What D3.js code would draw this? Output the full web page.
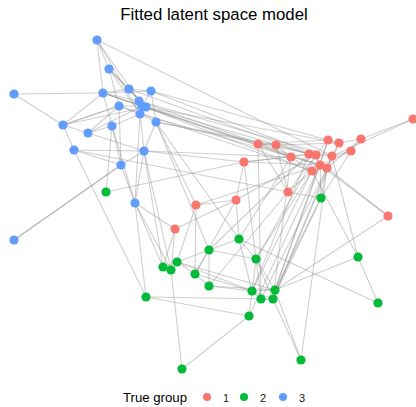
<!DOCTYPE html>
<html>
<head>
<meta charset="utf-8">
<script src="https://cdn.jsdelivr.net/npm/d3@7"></script>
<style>
  html, body { margin: 0; padding: 0; background: #fff; }
  svg { display: block; font-family: "Liberation Sans", Arial, Helvetica, sans-serif; }
</style>
</head>
<body>
<svg id="chart" width="416" height="407"></svg>
<script>
// Node ids, true group and fitted latent positions
const nodeIds = [
  "b1","b2","b3","b4","b5","b6","b7","b8","b9","b10",
  "b11","b12","b13","b14","b15","b16","b17","b18","b19","b20",
  "r1","r2","r3","r4","r5","r6","r7","r8","r9","r10",
  "r11","r12","r13","r14","r15","r16","r17","r18","r19","r20",
  "g1","g2","g3","g4","g5","g6","g7","g8","g9","g10",
  "g11","g12","g13","g14","g15","g16","g17","g18","g19","g20"
];
const nodeGroup = [
  "3","3","3","3","3","3","3","3","3","3","3","3","3","3","3","3","3","3","3","3",
  "1","1","1","1","1","1","1","1","1","1","1","1","1","1","1","1","1","1","1","1",
  "2","2","2","2","2","2","2","2","2","2","2","2","2","2","2","2","2","2","2","2"
];
const latentX = [
  97,109,14,103,129,151,139,142,146,140,
  119,156,63,88,112,74,144,121,135,14,
  413,258,276,328,339,361,351,291,309,316,
  332,244,320,327,312,288,236,388,196,175,
  106,321,239,209,256,163,177,171,195,209,
  252,275,261,273,146,249,182,301,358,378
];
const latentY = [
  40,69,94,93,89,91,101,106,107,114,
  106,122,125,133,126,150,151,165,203,240,
  119,144,145,140,143,139,151,157,154,155,
  156,162,165,168,171,192,200,216,205,229,
  192,198,239,250,259,267,262,270,274,286,
  291,290,299,299,297,316,369,360,257,303
];
// Observed ties (source, target)
const edgeFrom = [
  "b1","b1","b1","b1","b2","b2","b2","b2","b3","b3","b4","b4","b4","b4","b4","b4",
  "b5","b5","b5","b6","b6","b7","b7","b7","b8","b9","b8","b11","b11","b11","b11",
  "b12","b12","b13","b13","b13","b13","b14","b14","b14","b15","b15","b15","b16","b16",
  "b16","b17","b17","b17","b18","b18","b10",
  "b4","b4","b5","b6","b6","b7","b7","b8","b8","b9","b9","b10","b12","b12","b11","b16",
  "b17","b17","b12","b12","b12","b15","b1","g1","b20","b17","b17","b19","b19","b19","b19",
  "r1","r1","r2","r2","r2","r2","r3","r3","r3","r4","r4","r4","r5","r5","r6","r6",
  "r7","r7","r8","r8","r9","r9","r10","r10","r11","r12","r12","r12","r12","r13","r14",
  "r14","r13","r16","r17","r17","r19","r16","r3","r17",
  "r16","r13","r14","r7","r15","r10","r9","r13","r14","r11","r15","r13","r8","r9","r4",
  "r5","r11","r15","r18","r19","r19","r20","r20","r17","r17","r12","r16","r2","r8","r14",
  "g3","g3","g3","g3","g4","g4","g4","g4","g5","g5","g5","g6","g6","g7","g7","g8","g8",
  "g9","g9","g10","g10","g11","g11","g11","g12","g12","g13","g14","g12","g15","g15",
  "g16","g16","g19","g5","g2","g2","g7"
];
const edgeTo = [
  "b2","b4","b7","b10","b5","b11","b10","b9","b4","b13","b5","b6","b7","b13","b15","b8",
  "b6","b7","b9","b8","b12","b8","b9","b10","b10","b10","b11","b13","b10","b14","b18",
  "b10","b17","b14","b16","b9","b11","b15","b17","b8","b18","b10","b19","b17","b18",
  "g15","b18","b19","b10","b19","b20","b19",
  "r2","r8","r9","r4","r10","r11","r13","r14","r15","r5","r9","r13","r3","r10","r15","r16",
  "r12","r8","r19","g4","g3","g1","r11","r12","b18","g6","g8","g6","r20","g15","g8",
  "r6","r11","r3","r8","r16","r4","r9","r5","r8","r5","r10","r13","r6","r11","r7","r14",
  "r11","r13","r9","r15","r10","r14","r13","r11","r14","r8","r9","r17","r13","r15","r15",
  "r18","r18","r15","r19","r20","r13","r10","r16","r10",
  "g2","g2","g2","g2","g5","g5","g11","g12","g13","g14","g11","g16","g3","g4","g12",
  "g14","g19","g19","g12","g7","g9","g6","g8","g9","g3","g5","g10","g13","g14","g18",
  "g4","g5","g20","g11","g7","g9","g10","g5","g11","g13","g12","g7","g8","g9","g11",
  "g8","g17","g10","g11","g11","g12","g12","g13","g14","g14","g19","g14","g18","g18",
  "g16","g14","g17","g11","g20","g14","g12","g14","g12"
];

const groupLevels = ["1", "2", "3"];
const groupColors = ["#F8766D", "#00BA38", "#619CFF"];

const width = 416, height = 407;
const svg = d3.select("#chart");

const x = d3.scaleLinear().domain([0, 416]).range([0, width]);
const y = d3.scaleLinear().domain([0, 407]).range([0, height]);
const color = d3.scaleOrdinal().domain(groupLevels).range(groupColors);

const nodes = nodeIds.map((id, i) => ({ id, group: nodeGroup[i], lx: latentX[i], ly: latentY[i] }));
const byId = new Map(nodes.map(d => [d.id, d]));
const edges = edgeFrom.map((s, i) => ({ source: byId.get(s), target: byId.get(edgeTo[i]) }))
  .filter(e => e.source && e.target);

// Ties
svg.append("g")
  .selectAll("line")
  .data(edges)
  .join("line")
  .attr("x1", d => x(d.source.lx))
  .attr("y1", d => y(d.source.ly))
  .attr("x2", d => x(d.target.lx))
  .attr("y2", d => y(d.target.ly))
  .attr("stroke", "#8c8c8c")
  .attr("stroke-opacity", 0.42)
  .attr("stroke-width", 1.1);

// Actors
svg.append("g")
  .selectAll("circle")
  .data(nodes)
  .join("circle")
  .attr("cx", d => x(d.lx))
  .attr("cy", d => y(d.ly))
  .attr("r", 4.6)
  .attr("fill", d => color(d.group));

// Title
svg.append("text")
  .attr("x", 214)
  .attr("y", 19.5)
  .attr("text-anchor", "middle")
  .attr("font-size", 16.8)
  .attr("fill", "#000")
  .text("Fitted latent space model");

// Legend
const legend = svg.append("g").attr("transform", "translate(0,397)");
legend.append("text")
  .attr("x", 123)
  .attr("y", 4.5)
  .attr("font-size", 13.2)
  .attr("fill", "#000")
  .text("True group");
const keyX = [207, 244, 283];
legend.selectAll("g.key")
  .data(groupLevels)
  .join("g")
  .attr("class", "key")
  .attr("transform", (d, i) => `translate(${keyX[i]},0)`)
  .call(g => {
    g.append("circle").attr("r", 4).attr("fill", d => color(d));
    g.append("text")
      .attr("x", 16)
      .attr("y", 4.5)
      .attr("font-size", 11)
      .attr("fill", "#1a1a1a")
      .text(d => d);
  });
</script>
</body>
</html>
